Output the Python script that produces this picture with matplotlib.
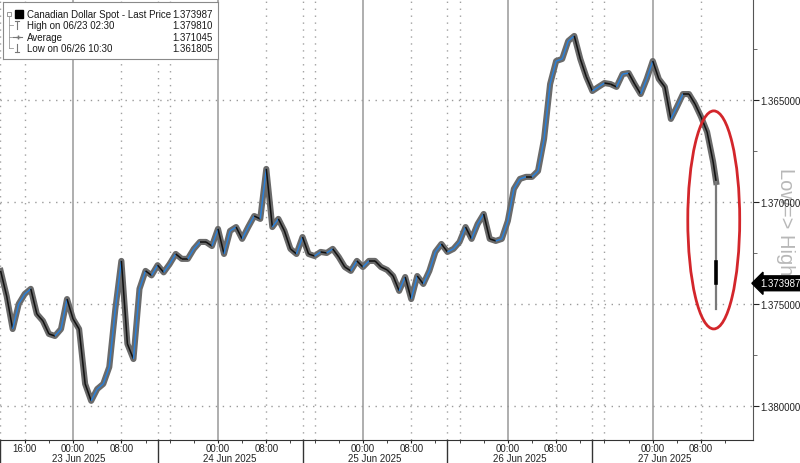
import numpy as np
import matplotlib.pyplot as plt
import matplotlib.transforms as mtransforms
from matplotlib.patches import Ellipse, Rectangle
from matplotlib.collections import LineCollection
from matplotlib.ticker import FormatStrFormatter

plt.rcParams['font.family'] = ['Liberation Sans', 'DejaVu Sans']

# hourly closes, hours counted from 23 Jun 2025 00:00
start_hour = -12
jun22_close = [1.37338, 1.37461, 1.37623, 1.37500, 1.37451, 1.37426, 1.37549, 1.37583,
               1.37647, 1.37657, 1.37623, 1.37476]
jun23_close = [1.37574, 1.37623, 1.37892, 1.37975, 1.37917, 1.37892, 1.37809, 1.37525,
               1.37289, 1.37696, 1.37770, 1.37426, 1.37338, 1.37360, 1.37310, 1.37345,
               1.37304, 1.37255, 1.37279, 1.37279, 1.37230, 1.37196, 1.37196, 1.37216]
jun24_close = [1.37132, 1.37255, 1.37142, 1.37123, 1.37181, 1.37123, 1.37069, 1.37083,
               1.36838, 1.37123, 1.37083, 1.37142, 1.37230, 1.37255, 1.37172, 1.37255,
               1.37265, 1.37245, 1.37250, 1.37230, 1.37270, 1.37319, 1.37338, 1.37289]
jun25_close = [1.37319, 1.37289, 1.37289, 1.37319, 1.37333, 1.37363, 1.37436, 1.37368,
               1.37476, 1.37363, 1.37402, 1.37338, 1.37245, 1.37206, 1.37245, 1.37230,
               1.37196, 1.37123, 1.37181, 1.37108, 1.37059, 1.37181, 1.37191, 1.37181]
jun26_close = [1.37093, 1.36936, 1.36887, 1.36877, 1.36877, 1.36848, 1.36691, 1.36422,
               1.36309, 1.36299, 1.36211, 1.36186, 1.36299, 1.36387, 1.36456, 1.36436,
               1.36417, 1.36422, 1.36436, 1.36373, 1.36368, 1.36422, 1.36471, 1.36397]
jun27_close = [1.36309, 1.36397, 1.36436, 1.36593, 1.36534, 1.36471, 1.36471, 1.36520,
               1.36583, 1.36657, 1.36804]

# last half-hour bar (the plunge)
last_hour = 106.5
last_bar_open = 1.36902
last_bar_extreme = 1.37524
last_bar_body = [1.37294, 1.373987]
last_price = 1.373987

legend_names = ['Canadian Dollar Spot - Last Price', 'High on 06/23 02:30', 'Average', 'Low on 06/26 10:30']
legend_values = ['1.373987', '1.379810', '1.371045', '1.361805']

time_tick_hours = [-8, 0, 8, 24, 32, 48, 56, 72, 80, 96, 104]
time_tick_labels = ['16:00', '00:00', '08:00', '00:00', '08:00', '00:00', '08:00',
                    '00:00', '08:00', '00:00', '08:00']
midnight_hours = [0, 24, 48, 72, 96]
dotted_hours = [-8, 8, 16, 32, 40, 56, 64, 80, 88, 104]
session_breaks = [14, 38, 62, 86]
date_label_hours = [1, 26, 50, 74, 98]
date_labels = ['23 Jun 2025', '24 Jun 2025', '25 Jun 2025', '26 Jun 2025', '27 Jun 2025']
y_ticks = [1.365, 1.370, 1.375, 1.380]
y_minor = [1.3625, 1.3675, 1.3725, 1.3775]

closes = jun22_close + jun23_close + jun24_close + jun25_close + jun26_close + jun27_close
hours = list(np.arange(start_hour, start_hour + len(closes)))
line_x = np.array(hours + [last_hour])
line_y = np.array(closes + [last_bar_open])

fig = plt.figure(figsize=(8, 4.64), dpi=100)
ax = fig.add_axes([0, 23 / 464, 753 / 800, 441 / 464])
ax.set_xlim(-12.1, 112.6)
ax.set_ylim(1.38167, 1.36005)

# grid
ax.set_yticks(y_ticks)
ax.set_yticks(y_minor, minor=True)
ax.grid(axis='y', which='major', linestyle=(0, (1, 4)), color='#9a9a9a', lw=1)
for h in dotted_hours + session_breaks:
    ax.axvline(h, color='#a0a0a0', lw=1, linestyle=(0, (1, 4)), zorder=1)
for h in midnight_hours:
    ax.axvline(h, color='#a8a8a8', lw=1.3, zorder=1)
ax.axvline(-12.1, color='#a0a0a0', lw=1, linestyle=(0, (1, 4)), zorder=1)

# price line: grey band, then segments coloured by direction
ax.plot(line_x, line_y, color='#6a6a6a', lw=4.4, zorder=3)
segs = np.stack([np.column_stack([line_x[:-1], line_y[:-1]]),
                 np.column_stack([line_x[1:], line_y[1:]])], axis=1)
seg_colors = ['#2a80d8' if b < a else '#111111' for a, b in zip(line_y[:-1], line_y[1:])]
ax.add_collection(LineCollection(segs, colors=seg_colors, linewidths=1.1, zorder=4))
ax.plot([last_hour, last_hour], [last_bar_open, last_bar_extreme], color='#7a7a7a', lw=1.6, zorder=4)
ax.plot([last_hour, last_hour], last_bar_body, color='black', lw=2.6, zorder=5)

# red ellipse
ax.add_patch(Ellipse((106.1, 1.37088), width=8.6, height=0.01069, fill=False,
                     ec='#d3262b', lw=2, zorder=6, clip_on=False))

# axes styling
for s in ['top', 'left']:
    ax.spines[s].set_visible(False)
ax.spines['bottom'].set_color('#333333')
ax.spines['right'].set_color('#555555')
ax.yaxis.tick_right()
ax.yaxis.set_major_formatter(FormatStrFormatter('%.6f'))
ax.tick_params(axis='y', which='major', length=4, pad=1, labelsize=7, colors='#222222')
ax.tick_params(axis='y', which='minor', length=3, colors='#555555')
ax.set_xticks(time_tick_hours, time_tick_labels)
ax.set_xticks(np.arange(-8, 112, 4), minor=True)
ax.tick_params(axis='x', which='both', length=2, pad=0.3, labelsize=7, colors='#222222')

trans = mtransforms.blended_transform_factory(ax.transData, ax.transAxes)
for h, lab in zip(date_label_hours, date_labels):
    ax.text(h, -18 / 441, lab, transform=trans, ha='center', va='center', fontsize=7, color='#222222')
for h in [-12.1] + session_breaks:
    ax.plot([h, h], [0, -23 / 441], transform=trans, color='#333333', lw=1, clip_on=False)

# side label sits behind the tick labels and price tag
ytrans = mtransforms.blended_transform_factory(ax.transAxes, ax.transData)
ax.text(1 + 33 / 753, 1.37090, 'Low=> High', transform=ytrans, rotation=270,
        ha='center', va='center', fontsize=14.5, color='#b8b8b8', clip_on=False, zorder=0.5)

# last price tag
ax.text(1 + 7 / 753, last_price, '1.373987', transform=ytrans, ha='left', va='center',
        fontsize=7, color='white', clip_on=False, zorder=10,
        bbox=dict(boxstyle='larrow,pad=0.25', fc='black', ec='black'))

# legend box
lg = fig.add_axes([3 / 800, 1 - 60 / 464, 215 / 800, 57 / 464])
lg.set_xlim(0, 215)
lg.set_ylim(57, 0)
lg.set_xticks([])
lg.set_yticks([])
for s in lg.spines.values():
    s.set_color('#8a8a8a')
    s.set_linewidth(0.8)
row_y = [12, 23, 35, 46]
for yy, name, val in zip(row_y, legend_names, legend_values):
    lg.text(24, yy, name, fontsize=7, va='center', ha='left', color='#1a1a1a')
    lg.text(210, yy, val, fontsize=7, va='center', ha='right', color='#1a1a1a')
lg.add_patch(Rectangle((12, 8), 8, 8, fc='black', ec='black'))
lg.add_patch(Rectangle((4, 10), 4, 4, fc='white', ec='#888888', lw=0.6))
lg.plot([6, 6], [14, 46], color='#999999', lw=0.6)
for yy in row_y[1:]:
    lg.plot([6, 10], [yy, yy], color='#999999', lw=0.6)
lg.plot([14, 14], [19, 27], color='#777777', lw=0.8)
lg.plot([12, 16], [19, 19], color='#777777', lw=0.8)
lg.plot([10, 19], [35, 35], color='#777777', lw=0.8)
lg.plot([14.5], [35], marker='+', color='#777777', ms=3)
lg.plot([14, 14], [42, 50], color='#777777', lw=0.8)
lg.plot([12, 16], [50, 50], color='#777777', lw=0.8)

fig.savefig('out.png', dpi=100)
